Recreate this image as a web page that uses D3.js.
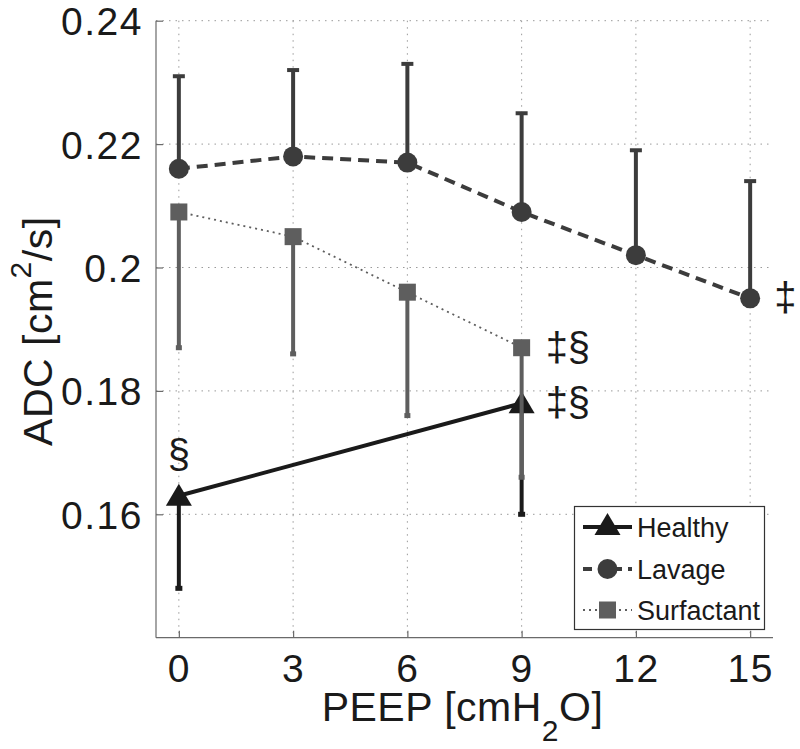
<!DOCTYPE html>
<html>
<head>
<meta charset="utf-8">
<script src="https://cdn.jsdelivr.net/npm/d3@7"></script>
<style>
  html, body { margin: 0; padding: 0; background: #fff; }
  svg { display: block; font-family: "Liberation Sans", Arial, Helvetica, sans-serif; }
</style>
</head>
<body>
<svg id="chart" width="800" height="749"></svg>
<script>
// ---- data ----
const peep = [0, 3, 6, 9, 12, 15];
const xTicks = [0, 3, 6, 9, 12, 15];
const yTicks = [0.16, 0.18, 0.2, 0.22, 0.24];
const yTickLabels = ["0.16", "0.18", "0.2", "0.22", "0.24"];

const healthyX = [0, 9];
const healthyY = [0.163, 0.178];
const healthyErrLow = [0.148, 0.160];

const lavageX = [0, 3, 6, 9, 12, 15];
const lavageY = [0.216, 0.218, 0.217, 0.209, 0.202, 0.195];
const lavageErrHigh = [0.231, 0.232, 0.233, 0.225, 0.219, 0.214];

const surfX = [0, 3, 6, 9];
const surfY = [0.209, 0.205, 0.196, 0.187];
const surfErrLow = [0.187, 0.186, 0.176, 0.166];

const seriesNames = ["Healthy", "Lavage", "Surfactant"];
const annotations = [
  { x: 0, y: 0.163, text: "§", pos: "above" },
  { x: 9, y: 0.187, text: "‡§", pos: "right" },
  { x: 9, y: 0.178, text: "‡§", pos: "right" },
  { x: 15, y: 0.195, text: "‡", pos: "right" }
];

// ---- layout ----
const svg = d3.select("#chart");
const L = 156, R = 773, T = 20.7, B = 637.7;
const x = d3.scaleLinear().domain([-0.6, 15.6]).range([L, R]);
const y = d3.scaleLinear().domain([0.14, 0.24]).range([B, T]);

const cHealthy = "#1a1a1a", cLavage = "#3c3c3c", cSurf = "#5e5e5e";

// grid
const grid = svg.append("g");
grid.selectAll("line.gx").data(xTicks).enter().append("line")
  .attr("x1", d => x(d)).attr("x2", d => x(d)).attr("y1", T).attr("y2", B)
  .attr("stroke", "#9a9a9a").attr("stroke-width", 1).attr("stroke-dasharray", "1.5,5");
grid.selectAll("line.gy").data(yTicks).enter().append("line")
  .attr("x1", L).attr("x2", R).attr("y1", d => y(d)).attr("y2", d => y(d))
  .attr("stroke", "#9a9a9a").attr("stroke-width", 1).attr("stroke-dasharray", "1.5,5");

// axes
const xAxis = d3.axisBottom(x).tickValues(xTicks).tickSizeInner(-7).tickSizeOuter(0).tickPadding(17);
const yAxis = d3.axisLeft(y).tickValues(yTicks).tickFormat((d, i) => yTickLabels[i]).tickSizeInner(-7).tickSizeOuter(0).tickPadding(13);
const gx = svg.append("g").attr("transform", `translate(0,${B})`).call(xAxis);
const gy = svg.append("g").attr("transform", `translate(${L},0)`).call(yAxis);
[gx, gy].forEach(g => {
  g.select(".domain").attr("stroke", "#6a6a6a").attr("stroke-width", 1.2);
  g.selectAll(".tick line").attr("stroke", "#6a6a6a").attr("stroke-width", 1.2);
  g.selectAll(".tick text").attr("fill", "#1a1a1a").attr("font-size", 39)
    .attr("letter-spacing", 1.5)
    .attr("font-family", "'Liberation Sans', Arial, sans-serif");
});
gx.select(".domain").attr("d", `M${L},0H${R}`);
gy.select(".domain").attr("d", `M0,${B}V${T}`);
gy.selectAll(".tick text").attr("dy", "0.36em");
gx.selectAll(".tick text").attr("dy", "0.71em");

// axis labels
const yl = svg.append("text")
  .attr("transform", `translate(52,${(T + B) / 2 + 2}) rotate(-90)`)
  .attr("text-anchor", "middle").attr("font-size", 41).attr("fill", "#1a1a1a")
  .attr("letter-spacing", 0.5);
yl.append("tspan").text("ADC [cm");
yl.append("tspan").attr("font-size", 30).attr("dy", -21).text("2");
yl.append("tspan").attr("dy", 21).text("/s]");

const xl = svg.append("text")
  .attr("x", (L + R) / 2 - 2).attr("y", 721)
  .attr("text-anchor", "middle").attr("font-size", 41).attr("fill", "#1a1a1a")
  .attr("letter-spacing", 0.5);
xl.append("tspan").text("PEEP [cmH");
xl.append("tspan").attr("font-size", 30).attr("dy", 20).text("2");
xl.append("tspan").attr("dy", -20).text("O]");

// marker helpers
function triPath(cx, cy, w, h) {
  return `M${cx},${cy - h * 0.55}L${cx + w / 2},${cy + h * 0.45}L${cx - w / 2},${cy + h * 0.45}Z`;
}

// ---- Healthy ----
const gH = svg.append("g");
gH.selectAll("line.err").data(healthyX).enter().append("line")
  .attr("x1", d => x(d)).attr("x2", d => x(d))
  .attr("y1", (d, i) => y(healthyY[i])).attr("y2", (d, i) => y(healthyErrLow[i]))
  .attr("stroke", cHealthy).attr("stroke-width", 4);
gH.selectAll("rect.cap").data(healthyX).enter().append("rect")
  .attr("x", d => x(d) - 3.5).attr("width", 7)
  .attr("y", (d, i) => y(healthyErrLow[i]) - 2.5).attr("height", 5)
  .attr("fill", cHealthy);
gH.append("path")
  .attr("d", d3.line().x(d => x(d[0])).y(d => y(d[1]))(healthyX.map((d, i) => [d, healthyY[i]])))
  .attr("fill", "none").attr("stroke", cHealthy).attr("stroke-width", 4);
gH.selectAll("path.m").data(healthyX).enter().append("path")
  .attr("d", (d, i) => triPath(x(d), y(healthyY[i]), 26, 22))
  .attr("fill", cHealthy);

// ---- Lavage ----
const gL = svg.append("g");
gL.selectAll("line.err").data(lavageX).enter().append("line")
  .attr("x1", d => x(d)).attr("x2", d => x(d))
  .attr("y1", (d, i) => y(lavageY[i])).attr("y2", (d, i) => y(lavageErrHigh[i]))
  .attr("stroke", cLavage).attr("stroke-width", 4);
gL.selectAll("line.cap").data(lavageX).enter().append("line")
  .attr("x1", d => x(d) - 6).attr("x2", d => x(d) + 6)
  .attr("y1", (d, i) => y(lavageErrHigh[i])).attr("y2", (d, i) => y(lavageErrHigh[i]))
  .attr("stroke", cLavage).attr("stroke-width", 4);
gL.append("path")
  .attr("d", d3.line().x(d => x(d[0])).y(d => y(d[1]))(lavageX.map((d, i) => [d, lavageY[i]])))
  .attr("fill", "none").attr("stroke", cLavage).attr("stroke-width", 4)
  .attr("stroke-dasharray", "11,7");
gL.selectAll("circle").data(lavageX).enter().append("circle")
  .attr("cx", d => x(d)).attr("cy", (d, i) => y(lavageY[i])).attr("r", 10)
  .attr("fill", cLavage);

// ---- Surfactant ----
const gS = svg.append("g");
gS.selectAll("line.err").data(surfX).enter().append("line")
  .attr("x1", d => x(d)).attr("x2", d => x(d))
  .attr("y1", (d, i) => y(surfY[i])).attr("y2", (d, i) => y(surfErrLow[i]))
  .attr("stroke", cSurf).attr("stroke-width", 4);
gS.selectAll("rect.cap").data(surfX).enter().append("rect")
  .attr("x", d => x(d) - 3).attr("width", 6)
  .attr("y", (d, i) => y(surfErrLow[i]) - 2.5).attr("height", 5)
  .attr("fill", cSurf);
gS.append("path")
  .attr("d", d3.line().x(d => x(d[0])).y(d => y(d[1]))(surfX.map((d, i) => [d, surfY[i]])))
  .attr("fill", "none").attr("stroke", cSurf).attr("stroke-width", 1.8)
  .attr("stroke-dasharray", "2,4");
gS.selectAll("rect.m").data(surfX).enter().append("rect")
  .attr("x", d => x(d) - 8.5).attr("y", (d, i) => y(surfY[i]) - 8.5)
  .attr("width", 17).attr("height", 17).attr("fill", cSurf);

// ---- annotations ----
svg.selectAll("text.ann").data(annotations).enter().append("text")
  .attr("x", d => d.pos === "above" ? x(d.x) : x(d.x) + 24)
  .attr("y", d => d.pos === "above" ? y(d.y) - 28 : y(d.y) + 13)
  .attr("text-anchor", d => d.pos === "above" ? "middle" : "start")
  .attr("font-size", 40).attr("fill", "#1a1a1a")
  .text(d => d.text);

// ---- legend ----
const lg = svg.append("g");
lg.append("rect").attr("x", 574.5).attr("y", 506.5).attr("width", 190).attr("height", 123)
  .attr("fill", "#fff").attr("stroke", "#333").attr("stroke-width", 1.2);
const legendRows = [
  { name: seriesNames[0], color: cHealthy, dash: null, w: 4, marker: "tri", cy: 527 },
  { name: seriesNames[1], color: cLavage, dash: "9,6", w: 4, marker: "circle", cy: 569 },
  { name: seriesNames[2], color: cSurf, dash: "2,4", w: 1.8, marker: "square", cy: 610 }
];
legendRows.forEach(r => {
  lg.append("line").attr("x1", 583).attr("x2", 632).attr("y1", r.cy).attr("y2", r.cy)
    .attr("stroke", r.color).attr("stroke-width", r.w)
    .attr("stroke-dasharray", r.dash);
  if (r.marker === "tri") lg.append("path").attr("d", triPath(607.5, r.cy - 2, 26, 22)).attr("fill", r.color);
  if (r.marker === "circle") lg.append("circle").attr("cx", 607.5).attr("cy", r.cy).attr("r", 10).attr("fill", r.color);
  if (r.marker === "square") lg.append("rect").attr("x", 599).attr("y", r.cy - 8.5).attr("width", 17).attr("height", 17).attr("fill", r.color);
  lg.append("text").attr("x", 637).attr("y", r.cy + 10).attr("font-size", 27).attr("fill", "#1a1a1a").text(r.name);
});
</script>
</body>
</html>
